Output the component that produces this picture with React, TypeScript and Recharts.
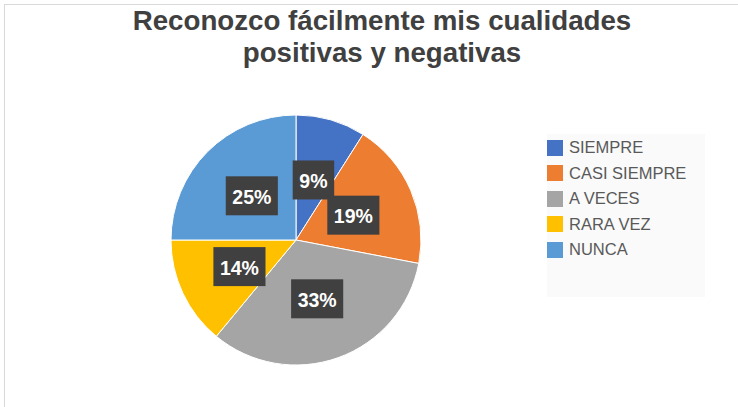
import { PieChart, Pie, Cell, Legend } from 'recharts'

const categories = ['SIEMPRE', 'CASI SIEMPRE', 'A VECES', 'RARA VEZ', 'NUNCA']
const values = [9, 19, 33, 14, 25]
const colors = ['#4472C4', '#ED7D31', '#A5A5A5', '#FFC000', '#5B9BD5']

const data = categories.map((name, i) => ({ name, value: values[i] }))

const RAD = Math.PI / 180

interface LabelProps {
  cx: number
  cy: number
  midAngle: number
  outerRadius: number
  percent: number
}

function BoxLabel({ cx, cy, midAngle, outerRadius, percent }: LabelProps) {
  const r = outerRadius * 0.5
  const x = cx + r * Math.cos(-midAngle * RAD)
  const y = cy + r * Math.sin(-midAngle * RAD)
  const text = `${Math.round(percent * 100)}%`
  const w = (text.length - 1) * 10.6 + 16.9 + 14
  const h = 39
  return (
    <g>
      <rect x={x - w / 2} y={y - h / 2} width={w} height={h} fill="#404040" />
      <text
        x={x}
        y={y + 1}
        fill="#fff"
        textAnchor="middle"
        dominantBaseline="central"
        fontSize={19.5}
        fontWeight="bold"
        fontFamily="'Liberation Sans', Arial, sans-serif"
      >
        {text}
      </text>
    </g>
  )
}

function LegendBox() {
  return (
    <div
      style={{
        width: 158,
        height: 163,
        background: '#fafafa',
        boxSizing: 'border-box',
        paddingTop: 1,
      }}
    >
      {categories.map((c, i) => (
        <div key={c} style={{ display: 'flex', alignItems: 'center', height: 25.5 }}>
          <span style={{ width: 16, height: 16, background: colors[i], marginRight: 6, flexShrink: 0 }} />
          <span style={{ fontSize: 16.5, color: '#595959', fontFamily: "'Liberation Sans', Arial, sans-serif", whiteSpace: 'nowrap' }}>
            {c}
          </span>
        </div>
      ))}
    </div>
  )
}

export default function App() {
  return (
    <div style={{ position: 'relative', width: 738, height: 407, background: '#fff', overflow: 'hidden' }}>
      <style>{'body{margin:0}'}</style>
      <div
        style={{
          position: 'absolute',
          left: 4,
          top: 4,
          width: 800,
          height: 500,
          borderTop: '1px solid #d9d9d9',
          borderLeft: '1px solid #d9d9d9',
        }}
      />
      <div
        style={{
          position: 'absolute',
          left: 0,
          top: 5,
          width: 764,
          textAlign: 'center',
          fontFamily: "'Liberation Sans', Arial, sans-serif",
          fontWeight: 'bold',
          fontSize: 27.7,
          lineHeight: '32px',
          color: '#404040',
        }}
      >
        Reconozco fácilmente mis cualidades
        <br />
        positivas y negativas
      </div>
      <div style={{ position: 'absolute', left: 0, top: 0 }}>
        <PieChart width={738} height={407} margin={{ top: 0, right: 0, bottom: 0, left: 0 }}>
          <Pie
            data={data}
            dataKey="value"
            nameKey="name"
            cx={296}
            cy={240}
            outerRadius={125}
            startAngle={90}
            endAngle={-270}
            stroke="#fff"
            strokeWidth={1}
            label={BoxLabel}
            labelLine={false}
            isAnimationActive={false}
          >
            {data.map((d, i) => (
              <Cell key={d.name} fill={colors[i]} />
            ))}
          </Pie>
          <Legend
            content={<LegendBox />}
            layout="vertical"
            wrapperStyle={{ position: 'absolute', left: 547, top: 134, width: 158, height: 163 }}
          />
        </PieChart>
      </div>
    </div>
  )
}
